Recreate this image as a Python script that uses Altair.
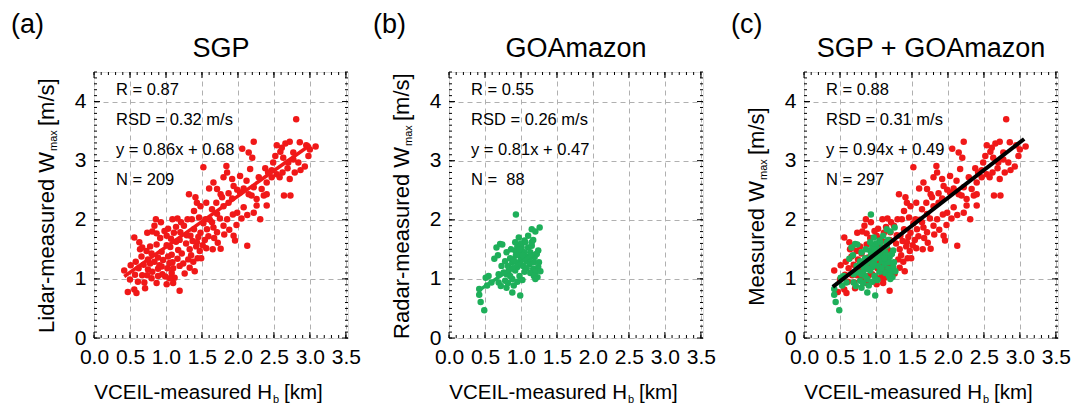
import altair as alt
import pandas as pd

FONT = "Liberation Sans"
RED = "#f01818"
GREEN = "#1eaf5a"

# ---------------- data ----------------
sgp_x = [2.81, 2.22, 2.06, 2.15, 2.20, 1.52, 1.84, 2.54, 2.61, 2.66, 2.72, 2.86, 3.08, 2.95, 2.59,
         2.77, 2.49, 2.77, 2.47, 2.54, 2.62, 2.69, 2.79, 2.72, 2.64, 2.73, 2.87, 2.93, 2.58, 2.42,
         1.85, 2.03, 2.17, 2.12, 1.94, 1.80, 1.66, 1.60, 1.76, 1.87, 1.92, 1.99, 2.08, 2.22, 2.19,
         2.08, 2.22, 2.31, 2.13, 1.99, 1.98, 1.94, 1.96, 2.13, 2.40, 1.87, 1.80, 1.70, 1.56, 1.48,
         1.39, 1.32, 1.41, 1.46, 1.55, 1.64, 1.66, 1.71, 1.80, 1.85, 1.57, 1.48, 1.39, 1.30, 1.21,
         1.16, 1.25, 1.34, 1.43, 1.20, 1.11, 1.07, 1.01, 0.93, 0.84, 0.74, 0.81, 0.63, 0.67, 0.56,
         0.42, 0.51, 0.58, 0.47, 0.56, 0.59, 0.67, 0.70, 0.74, 0.81, 0.89, 0.95, 1.02, 1.09, 1.16,
         1.19,
         0.64, 0.73, 0.78, 0.87, 0.92, 1.01, 1.06, 1.14, 1.19, 1.28, 1.33, 1.42, 1.47, 0.66, 0.75,
         0.80, 0.89, 0.94, 1.03, 1.08, 1.17, 1.22, 1.31, 1.35, 1.44, 0.69, 0.78, 0.84, 0.91, 0.96,
         1.05, 1.10, 1.19, 1.24, 1.33, 1.38, 0.80, 0.89, 0.99, 1.08, 1.12, 0.75, 0.62, 0.57, 0.50,
         0.61, 0.87, 1.01, 0.94, 1.26, 1.29, 1.37, 1.45, 1.54, 1.59, 1.67, 1.72, 1.51, 1.56, 1.65,
         1.14, 1.03, 0.98, 0.87, 1.52, 1.61, 1.75, 1.93, 2.05, 1.81, 1.88, 1.49, 1.40, 0.71, 1.10,
         1.05,
         1.92, 2.03, 2.15, 2.26, 2.33, 2.36, 2.40, 2.47, 2.29, 2.38, 2.52, 2.63, 2.70, 2.84, 2.98,
         3.00, 2.26, 2.40, 1.64, 1.71, 1.78, 1.71, 1.43, 1.36, 1.09, 0.86, 1.76]
sgp_y = [3.70, 3.32, 3.20, 3.14, 3.05, 2.89, 2.91, 3.26, 3.22, 3.29, 3.32, 3.31, 3.24, 3.26, 3.15,
         3.14, 2.97, 3.02, 2.84, 2.77, 2.80, 2.87, 2.80, 2.69, 2.41, 2.41, 2.84, 2.90, 2.72, 2.80,
         2.80, 2.74, 2.86, 2.66, 2.57, 2.72, 2.63, 2.53, 2.43, 2.45, 2.36, 2.51, 2.53, 2.55, 2.41,
         2.21, 2.12, 2.01, 2.08, 2.12, 1.91, 1.73, 1.65, 1.56, 2.24, 2.29, 2.23, 2.29, 2.29, 2.23,
         2.15, 2.43, 2.38, 2.04, 2.01, 1.96, 1.87, 1.79, 1.90, 2.01, 1.84, 1.78, 1.84, 2.01, 1.96,
         2.02, 1.90, 1.73, 1.62, 1.79, 1.78, 1.68, 1.73, 1.96, 1.90, 1.78, 1.80, 1.62, 1.53, 1.70,
         1.14, 1.23, 1.29, 0.78, 0.82, 0.76, 1.06, 0.94, 1.06, 1.12, 1.17, 1.08, 1.18, 1.28, 1.34,
         0.80,
         1.50, 1.47, 1.55, 1.58, 1.69, 1.57, 1.54, 1.63, 1.66, 1.60, 1.50, 1.55, 1.47, 1.38, 1.33,
         1.43, 1.36, 1.46, 1.38, 1.41, 1.49, 1.43, 1.33, 1.40, 1.35, 1.24, 1.26, 1.29, 1.23, 1.32,
         1.27, 1.18, 1.22, 1.26, 1.19, 1.29, 1.01, 1.05, 1.04, 1.10, 1.02, 1.16, 1.18, 1.07, 0.99,
         0.95, 0.93, 0.91, 1.21, 1.09, 1.74, 1.64, 1.71, 1.66, 1.72, 1.69, 1.61, 1.57, 1.52, 1.50,
         1.88, 1.85, 1.81, 1.77, 1.94, 2.00, 2.02, 2.09, 2.02, 1.75, 1.83, 1.35, 1.13, 0.84, 0.93,
         1.01,
         2.69, 2.46, 2.43, 2.35, 2.52, 2.41, 2.63, 2.72, 2.72, 2.87, 3.08, 3.05, 2.97, 2.97, 3.08,
         3.19, 2.24, 2.43, 2.18, 2.10, 2.38, 2.52, 2.29, 2.01, 2.01, 2.01, 1.51]

goa_x = [0.93, 1.26, 1.15, 1.10, 0.97, 0.71, 0.66, 0.80, 0.63, 0.92, 0.99, 1.01, 1.10, 1.15, 1.08,
         1.19, 0.88, 0.97, 1.03, 1.12, 1.17, 1.24, 1.23, 0.73, 0.76, 0.83, 0.92, 0.69, 0.55, 0.51,
         0.59, 0.69, 0.78, 0.88, 0.90, 0.88, 0.99, 0.42, 0.42, 0.44, 0.49, 0.53,
         1.20, 1.05, 1.00, 0.95, 1.05, 1.13, 1.22, 1.18, 1.08, 1.00, 0.93, 0.85, 0.78, 0.82, 0.95,
         1.05, 1.13, 1.20, 1.25, 0.98, 0.85, 1.06, 0.98, 1.14, 0.72, 0.80, 0.95, 1.08, 0.90, 1.02,
         1.12, 0.86, 0.74, 0.68, 1.18, 0.80, 0.88, 1.15, 1.24, 1.27, 1.20, 0.96, 1.02, 0.92, 0.82,
         1.17]
goa_y = [2.09, 1.87, 1.84, 1.73, 1.70, 1.59, 1.53, 1.45, 1.34, 1.48, 1.42, 1.53, 1.53, 1.56, 1.37,
         1.37, 1.28, 1.28, 1.22, 1.25, 1.17, 1.20, 1.03, 1.22, 1.11, 1.14, 1.14, 1.08, 1.05, 1.02,
         0.94, 0.94, 0.97, 1.00, 0.89, 0.77, 0.72, 0.73, 0.83, 0.61, 0.47, 0.89,
         1.80, 1.65, 1.60, 1.55, 1.45, 1.45, 1.42, 1.28, 1.30, 1.35, 1.40, 1.35, 1.30, 1.22, 1.20,
         1.12, 1.10, 1.12, 1.28, 1.05, 1.05, 1.62, 1.50, 1.40, 0.88, 0.85, 0.95, 1.18, 1.32, 1.40,
         1.35, 1.50, 1.58, 1.40, 1.05, 1.08, 1.18, 1.62, 1.48, 1.13, 1.00, 1.25, 0.98, 1.62, 0.93,
         1.66]

# fits: slope, intercept, x-range
sgp_fit = (0.86, 0.68, 0.42, 3.01)
goa_fit = (0.81, 0.47, 0.42, 1.27)
all_fit = (0.94, 0.49, 0.40, 3.06)

stats_a = ["R = 0.87", "RSD = 0.32 m/s", "y = 0.86x + 0.68", "N = 209"]
stats_b = ["R = 0.55", "RSD = 0.26 m/s", "y = 0.81x + 0.47", "N =\u00a0\u00a088"]
stats_c = ["R = 0.88", "RSD = 0.31 m/s", "y = 0.94x + 0.49", "N = 297"]

x_major = [0.0, 0.5, 1.0, 1.5, 2.0, 2.5, 3.0, 3.5]
y_major = [0, 1, 2, 3, 4]
x_minor = [round(i * 0.1, 1) for i in range(36)]
y_minor = [round(i * 0.1, 1) for i in range(46)]

# ---------------- layout ----------------
W, H = 254, 266
xs = alt.Scale(domain=[0, 3.53], nice=False, zero=False)
ys = alt.Scale(domain=[0, 4.5], nice=False, zero=False)

common_axis = dict(title=None, labelFontSize=21, labelFont=FONT, labelColor="black",
                   labelFlush=False, labelOverlap=False, ticks=False, domain=False,
                   grid=True, gridColor="#b0b0b0", gridDash=[5, 4], gridWidth=1)
xaxis = alt.Axis(values=x_major, format=".1f", labelPadding=8, **common_axis)
yaxis = alt.Axis(values=y_major, format="d", labelPadding=8, **common_axis)


def X():
    return alt.X("x:Q", scale=xs, axis=xaxis)


def Y():
    return alt.Y("y:Q", scale=ys, axis=yaxis)


def tick_layers():
    out = []
    for vals, L in [(x_minor, 3), (x_major, 6)]:
        d = pd.DataFrame({"x": vals})
        base = alt.Chart(d).mark_rule(color="black", strokeWidth=1)
        out.append(base.encode(x=X(), y=alt.value(H), y2=alt.value(H - L)))
        out.append(base.encode(x=X(), y=alt.value(0), y2=alt.value(L)))
    for vals, L in [(y_minor, 3), (y_major, 6)]:
        d = pd.DataFrame({"y": vals})
        base = alt.Chart(d).mark_rule(color="black", strokeWidth=1)
        out.append(base.encode(y=Y(), x=alt.value(0), x2=alt.value(L)))
        out.append(base.encode(y=Y(), x=alt.value(W), x2=alt.value(W - L)))
    return out


def txt(text, x, y, size, align="left", baseline="alphabetic", angle=None, **extra):
    kw = dict(text=text, align=align, baseline=baseline, fontSize=size, font=FONT,
              color="black", **extra)
    if angle is not None:
        kw["angle"] = angle
    return alt.Chart(alt.Data(values=[{}])).mark_text(**kw).encode(
        x=alt.value(x), y=alt.value(y))


def points(xv, yv, color):
    d = pd.DataFrame({"x": xv, "y": yv})
    return alt.Chart(d).mark_circle(size=42, color=color, opacity=1).encode(x=X(), y=Y())


def fit(f, color, width):
    m, b, x0, x1 = f
    d = pd.DataFrame({"x": [x0, x1], "y": [m * x0 + b, m * x1 + b]})
    return alt.Chart(d).mark_line(color=color, strokeWidth=width).encode(x=X(), y=Y())


def panel(label, lab_x, title, stats, ymain, junction, data_layers):
    texts = [
        txt(label, lab_x, -39, 27),
        txt(title, W / 2, -15, 27, align="center"),
        txt(stats, 22, 22.5, 16.5, lineHeight=30.2),
        # x title: VCEIL-measured H_b [km]
        txt("VCEIL-measured H", 178, 327, 20.5, align="right"),
        txt("b", 179, 331, 11),
        txt("[km]", 190, 327, 20.5),
        # y title: ... W_max [m/s]
        txt(ymain, -40, junction, 22, align="right", angle=270),
        txt("max", -37, junction - 1, 11, angle=270),
        txt("[m/s]", -40, junction - 26, 22, angle=270),
    ]
    return alt.layer(*(tick_layers() + data_layers + texts)).properties(width=W, height=H)


pa = panel("(a)", -83, "SGP", stats_a, "Lidar-measured W", 80,
           [points(sgp_x, sgp_y, RED), fit(sgp_fit, RED, 3.5)])
pb = panel("(b)", -76, "GOAmazon", stats_b, "Radar-measured W", 75,
           [points(goa_x, goa_y, GREEN), fit(goa_fit, GREEN, 3.5)])
pc = panel("(c)", -73, "SGP + GOAmazon", stats_c, "Measured W", 109,
           [points(sgp_x, sgp_y, RED), points(goa_x, goa_y, GREEN), fit(all_fit, "black", 4)])

chart = (
    alt.hconcat(pa, pb, pc, spacing=101, bounds="flush")
    .properties(padding={"left": 10, "top": 10, "right": 0, "bottom": 0})
    .configure_view(stroke="black", strokeWidth=2)
    .configure(background="white")
)

chart.save("out.html", embed_options={"renderer": "svg", "actions": False})
